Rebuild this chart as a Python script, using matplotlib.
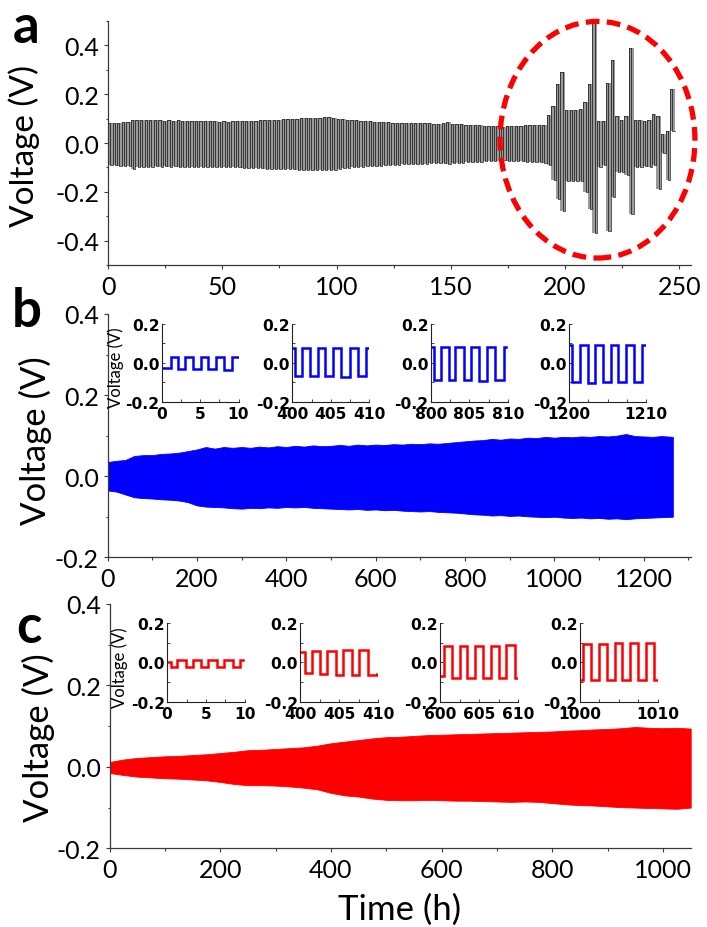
import numpy as np
import matplotlib
matplotlib.use("Agg")
import matplotlib.pyplot as plt
from matplotlib.patches import Ellipse
from matplotlib.ticker import MultipleLocator

plt.rcParams['font.family'] = ['Lato', 'DejaVu Sans']
plt.rcParams['axes.unicode_minus'] = False

# ---------------- DATA ----------------
# panel a: per-cycle (2 h period) upper / lower voltage plateaus
a_period = 2.0
a_upper = [0.080, 0.082, 0.083, 0.085, 0.088,
           0.095, 0.094, 0.096, 0.095, 0.094,
           0.093, 0.094, 0.092, 0.093, 0.092, 0.093, 0.091, 0.092, 0.091, 0.090,
           0.090, 0.089, 0.090, 0.089, 0.088, 0.089, 0.088, 0.089, 0.090, 0.089,
           0.090, 0.091, 0.092, 0.093, 0.094, 0.095, 0.094, 0.096, 0.097, 0.098,
           0.099, 0.100, 0.101, 0.103, 0.104, 0.102, 0.104, 0.106, 0.105, 0.104,
           0.100, 0.098, 0.096, 0.095, 0.094, 0.092, 0.090, 0.089, 0.088, 0.087,
           0.086, 0.085, 0.084, 0.083, 0.083, 0.082, 0.082, 0.081, 0.081, 0.080,
           0.080, 0.079, 0.079, 0.080, 0.085, 0.078, 0.077, 0.076, 0.075, 0.074,
           0.073, 0.072, 0.071, 0.070, 0.069, 0.068, 0.067, 0.068, 0.069, 0.070,
           0.071, 0.072, 0.073, 0.072, 0.074,
           0.075, 0.116, 0.150, 0.240, 0.290, 0.137, 0.135, 0.137, 0.140, 0.170,
           0.240, 0.500, 0.090, 0.090, 0.245, 0.340, 0.110, 0.095, 0.110, 0.390,
           0.095, 0.095, 0.090, 0.095, 0.120, 0.110, 0.035, 0.050, 0.220]
a_lower = [-0.090, -0.092, -0.093, -0.095, -0.096,
           -0.108, -0.100, -0.098, -0.097, -0.097,
           -0.096, -0.097, -0.096, -0.097, -0.096, -0.097, -0.097, -0.098, -0.097, -0.098,
           -0.098, -0.097, -0.098, -0.099, -0.098, -0.099, -0.100, -0.099, -0.100, -0.101,
           -0.101, -0.102, -0.103, -0.104, -0.105, -0.106, -0.106, -0.107, -0.107, -0.108,
           -0.108, -0.109, -0.109, -0.110, -0.111, -0.110, -0.112, -0.111, -0.110, -0.109,
           -0.106, -0.104, -0.102, -0.100, -0.099, -0.098, -0.096, -0.095, -0.094, -0.093,
           -0.092, -0.091, -0.090, -0.089, -0.088, -0.088, -0.087, -0.086, -0.086, -0.085,
           -0.084, -0.084, -0.083, -0.082, -0.086, -0.082, -0.081, -0.080, -0.079, -0.078,
           -0.077, -0.076, -0.075, -0.074, -0.073, -0.072, -0.071, -0.072, -0.073, -0.074,
           -0.075, -0.076, -0.077, -0.078, -0.079,
           -0.080, -0.090, -0.150, -0.230, -0.280, -0.157, -0.155, -0.157, -0.155, -0.200,
           -0.270, -0.370, -0.100, -0.090, -0.360, -0.220, -0.120, -0.120, -0.130, -0.290,
           -0.100, -0.100, -0.095, -0.100, -0.090, -0.190, -0.040, -0.150, 0.050]

# panel b: envelope of the cycling band
b_time = [0, 20, 40, 60, 80, 100, 120, 140, 160, 180, 200, 220, 240, 260, 280, 300,
          320, 340, 360, 380, 400, 420, 440, 460, 480, 500, 520, 540, 560, 580, 600,
          620, 640, 660, 680, 700, 720, 740, 760, 780, 800, 820, 840, 860, 880, 900,
          920, 940, 960, 980, 1000, 1020, 1040, 1060, 1080, 1100, 1120, 1140, 1160,
          1180, 1200, 1220, 1240, 1265]
b_upper = [0.035, 0.038, 0.040, 0.050, 0.052, 0.052, 0.055, 0.056, 0.058, 0.062,
           0.066, 0.072, 0.068, 0.072, 0.070, 0.072, 0.070, 0.073, 0.071, 0.074,
           0.072, 0.075, 0.073, 0.076, 0.074, 0.075, 0.077, 0.075, 0.078, 0.076,
           0.078, 0.077, 0.079, 0.078, 0.080, 0.079, 0.081, 0.080, 0.082, 0.084,
           0.086, 0.088, 0.089, 0.092, 0.090, 0.093, 0.092, 0.095, 0.094, 0.097,
           0.095, 0.097, 0.096, 0.098, 0.097, 0.099, 0.098, 0.100, 0.104, 0.099,
           0.098, 0.097, 0.099, 0.097]
b_lower = [-0.035, -0.038, -0.045, -0.052, -0.054, -0.055, -0.057, -0.058, -0.060, -0.064,
           -0.072, -0.075, -0.076, -0.077, -0.079, -0.080, -0.078, -0.079, -0.077, -0.078,
           -0.076, -0.077, -0.076, -0.078, -0.079, -0.080, -0.081, -0.082, -0.081, -0.083,
           -0.082, -0.084, -0.083, -0.085, -0.086, -0.087, -0.086, -0.088, -0.089, -0.090,
           -0.092, -0.094, -0.095, -0.097, -0.096, -0.098, -0.097, -0.099, -0.100, -0.101,
           -0.100, -0.102, -0.103, -0.102, -0.104, -0.103, -0.105, -0.104, -0.106, -0.104,
           -0.103, -0.102, -0.101, -0.100]

# panel c: envelope of the cycling band
c_time = [0, 25, 50, 75, 100, 125, 150, 175, 200, 225, 250, 275, 300, 325, 350, 375,
          400, 425, 450, 475, 500, 525, 550, 575, 600, 625, 650, 675, 700, 725, 750,
          775, 800, 825, 850, 875, 900, 925, 950, 975, 1000, 1025, 1050]
c_upper = [0.012, 0.018, 0.022, 0.024, 0.026, 0.027, 0.029, 0.031, 0.034, 0.037,
           0.041, 0.042, 0.044, 0.046, 0.048, 0.052, 0.058, 0.062, 0.066, 0.070,
           0.073, 0.074, 0.076, 0.078, 0.079, 0.080, 0.081, 0.082, 0.083, 0.084,
           0.085, 0.086, 0.087, 0.089, 0.090, 0.092, 0.093, 0.095, 0.098, 0.096,
           0.095, 0.096, 0.094]
c_lower = [-0.015, -0.020, -0.024, -0.026, -0.028, -0.029, -0.031, -0.033, -0.037, -0.042,
           -0.045, -0.045, -0.046, -0.048, -0.051, -0.055, -0.064, -0.070, -0.073, -0.078,
           -0.081, -0.082, -0.082, -0.081, -0.082, -0.083, -0.083, -0.084, -0.085, -0.086,
           -0.085, -0.086, -0.089, -0.092, -0.094, -0.095, -0.097, -0.099, -0.100, -0.101,
           -0.102, -0.103, -0.100]

# insets: start, end, switching times, plateau voltages
b_inset_start = [0.2, 400, 800, 1200]
b_inset_end = [9.9, 409.85, 809.8, 1209.8]
b_inset_edges = [
    [1.2, 2.2, 3.1, 4.1, 5.1, 6.1, 7.1, 8.1, 9.1],
    [400.4, 401.3, 402.3, 403.3, 404.3, 405.35, 406.35, 407.45, 408.5, 409.6],
    [800.4, 801.3, 802.4, 803.2, 804.3, 805.2, 806.3, 807.3, 808.4, 809.5],
    [1200.4, 1201.4, 1202.4, 1203.4, 1204.4, 1205.4, 1206.4, 1207.4, 1208.4, 1209.4]]
b_inset_levels = [
    [-0.028, 0.028, -0.030, 0.029, -0.032, 0.030, -0.033, 0.031, -0.035, 0.030],
    [0.075, -0.068, 0.074, -0.070, 0.076, -0.070, 0.077, -0.071, 0.076, -0.070, 0.075],
    [0.080, -0.088, 0.080, -0.090, 0.082, -0.090, 0.080, -0.092, 0.082, -0.090, 0.080],
    [0.093, -0.100, 0.093, -0.102, 0.093, -0.100, 0.092, -0.100, 0.092, -0.100, 0.092]]
b_inset_xticks = [[0, 5, 10], [400, 405, 410], [800, 805, 810], [1200, 1210]]

c_inset_start = [0, 400, 600, 1000]
c_inset_end = [9.8, 409.95, 609.9, 1009.9]
c_inset_edges = [
    [0.5, 1.3, 2.4, 3.3, 4.4, 5.3, 6.4, 7.3, 8.4, 9.3],
    [400.6, 401.5, 402.6, 403.5, 404.6, 405.5, 406.7, 407.6, 408.7, 409.9],
    [600.5, 601.5, 602.5, 603.5, 604.5, 605.5, 606.5, 607.5, 608.5, 609.6],
    [1000.5, 1001.5, 1002.5, 1003.5, 1004.5, 1005.5, 1006.5, 1007.5, 1008.5, 1009.6]]
c_inset_levels = [
    [0.0, -0.022, 0.012, -0.022, 0.012, -0.022, 0.013, -0.022, 0.013, -0.022, 0.013],
    [0.055, -0.055, 0.058, -0.060, 0.060, -0.062, 0.062, -0.062, 0.063, -0.063, -0.060],
    [-0.070, 0.082, -0.080, 0.082, -0.082, 0.085, -0.082, 0.085, -0.082, 0.087, -0.080],
    [-0.090, 0.095, -0.090, 0.095, -0.092, 0.097, -0.092, 0.097, -0.092, 0.098, -0.090]]
c_inset_xticks = [[0, 5, 10], [400, 405, 410], [600, 605, 610], [1000, 1010]]

# ---------------- FIGURE ----------------
W, H = 707, 928
fig = plt.figure(figsize=(W / 100, H / 100), dpi=100)


def px_axes(l, t, r, b):
    return fig.add_axes([l / W, 1 - b / H, (r - l) / W, (b - t) / H])


SPINE = '#3a3a3a'


def style_main(ax):
    for s in ['top', 'right']:
        ax.spines[s].set_visible(False)
    for s in ['left', 'bottom']:
        ax.spines[s].set_color(SPINE)
        ax.spines[s].set_linewidth(0.9)
    ax.tick_params(which='major', direction='out', length=3.2, width=0.8,
                   color=SPINE, labelsize=18, pad=3)
    ax.tick_params(which='minor', direction='out', length=1.8, width=0.8, color=SPINE)
    ax.tick_params(axis='x', pad=4)


def square(start, end, edges, levels):
    xs = [start]
    ys = [levels[0]]
    for i, e in enumerate(edges):
        xs += [e, e]
        ys += [levels[i], levels[i + 1]]
    xs.append(end)
    ys.append(levels[len(edges)])
    return xs, ys


def inset(l, t, w, h, start, end, edges, levels, xticks, color):
    ax = px_axes(l, t, l + w, t + h)
    xs, ys = square(start, end, edges, levels)
    ax.plot(xs, ys, color=color, lw=1.8, solid_joinstyle='miter')
    ax.set_xlim(xticks[0], xticks[-1])
    ax.set_ylim(-0.2, 0.2)
    ax.patch.set_alpha(0)
    for s in ['top', 'right']:
        ax.spines[s].set_visible(False)
    for s in ['left', 'bottom']:
        ax.spines[s].set_color('#222222')
        ax.spines[s].set_linewidth(0.8)
    ax.set_yticks([-0.2, 0.0, 0.2])
    ax.set_yticklabels(['-0.2', '0.0', '0.2'])
    ax.set_xticks(xticks)
    ax.set_xticklabels([str(x) for x in xticks])
    ax.xaxis.set_minor_locator(MultipleLocator(2.5))
    ax.yaxis.set_minor_locator(MultipleLocator(0.1))
    ax.tick_params(which='both', direction='in', length=2, width=0.6, color='#222222')
    ax.tick_params(which='major', labelsize=11.2, pad=1.5)
    ax.tick_params(axis='x', pad=3)
    for lab in ax.get_xticklabels() + ax.get_yticklabels():
        lab.set_fontweight('bold')
        lab.set_fontfamily(['DejaVu Sans'])
    return ax


# ---- panel a ----
axa = px_axes(108, 22, 690.7, 266)
xs, ys = [], []
cyc_t = []
for k, (u, lo) in enumerate(zip(a_upper, a_lower)):
    t0 = k * a_period
    cyc_t.append(t0)
    xs += [t0, t0 + a_period / 2, t0 + a_period / 2, t0 + a_period]
    ys += [u, u, lo, lo]
cyc_t.append(len(a_upper) * a_period)
axa.fill_between(cyc_t, a_lower + [a_lower[-1]], a_upper + [a_upper[-1]],
                 step='post', color='#9a9a9a', lw=0)
axa.plot([0] + xs, [0.0] + ys, color='black', lw=0.45)
axa.set_xlim(0, 255)
axa.set_ylim(-0.5, 0.5)
axa.set_xticks([0, 50, 100, 150, 200, 250])
axa.set_yticks([-0.4, -0.2, 0.0, 0.2, 0.4])
axa.set_yticklabels(['-0.4', '-0.2', '0.0', '0.2', '0.4'])
axa.xaxis.set_minor_locator(MultipleLocator(25))
axa.yaxis.set_minor_locator(MultipleLocator(0.1))
style_main(axa)
axa.add_patch(Ellipse((214.2, 0.0135), 85.3, 0.97, fill=False, edgecolor='#ff0000',
                      lw=3.8, linestyle=(0, (2.6, 1.4)), clip_on=False, zorder=5))

# ---- panel b ----
axb = px_axes(107.5, 315, 690.7, 558.3)
axb.fill_between(b_time, b_lower, b_upper, color='#0000ff', lw=0.6, edgecolor='#0000ff')
axb.set_xlim(0, 1305)
axb.set_ylim(-0.2, 0.4)
axb.set_xticks([0, 200, 400, 600, 800, 1000, 1200])
axb.set_yticks([-0.2, 0.0, 0.2, 0.4])
axb.set_yticklabels(['-0.2', '0.0', '0.2', '0.4'])
axb.xaxis.set_minor_locator(MultipleLocator(100))
axb.yaxis.set_minor_locator(MultipleLocator(0.1))
style_main(axb)

# ---- panel c ----
axc = px_axes(109.5, 605, 690.7, 849.3)
axc.fill_between(c_time, c_lower, c_upper, color='#ff0000', lw=0.6, edgecolor='#ff0000')
axc.set_xlim(0, 1050)
axc.set_ylim(-0.2, 0.4)
axc.set_xticks([0, 200, 400, 600, 800, 1000])
axc.set_yticks([-0.2, 0.0, 0.2, 0.4])
axc.set_yticklabels(['-0.2', '0.0', '0.2', '0.4'])
axc.xaxis.set_minor_locator(MultipleLocator(100))
axc.yaxis.set_minor_locator(MultipleLocator(0.1))
style_main(axc)

for ax in (axa, axb, axc):
    for lab in ax.get_xticklabels() + ax.get_yticklabels():
        lab.set_fontfamily(['Lato'])

# ---- insets ----
b_left = [161.5, 292.3, 430.8, 569.2]
for i in range(4):
    inset(b_left[i], 325, 77, 77.7, b_inset_start[i], b_inset_end[i],
          b_inset_edges[i], b_inset_levels[i], b_inset_xticks[i], '#0000ff')
c_left = [167, 300, 440, 579.5]
for i in range(4):
    inset(c_left[i], 624, 78, 78.7, c_inset_start[i], c_inset_end[i],
          c_inset_edges[i], c_inset_levels[i], c_inset_xticks[i], '#ff0000')

# ---- labels ----
def ftext(x, y, s, **kw):
    fig.text(x / W, 1 - y / H, s, **kw)


ftext(24, 146, 'Voltage (V)', rotation=90, ha='center', va='center', fontsize=24)
ftext(35, 441, 'Voltage (V)', rotation=90, ha='center', va='center', fontsize=25)
ftext(38, 738, 'Voltage (V)', rotation=90, ha='center', va='center', fontsize=25)
ftext(116, 368, 'Voltage (V)', rotation=90, ha='center', va='center', fontsize=12)
ftext(120, 668, 'Voltage (V)', rotation=90, ha='center', va='center', fontsize=12)
ftext(400, 920, 'Time (h)', ha='center', va='baseline', fontsize=25)

ftext(26, 43, 'a', ha='center', va='baseline', fontsize=38, fontweight='bold')
ftext(27, 327, 'b', ha='center', va='baseline', fontsize=38, fontweight='bold')
ftext(29, 643, 'c', ha='center', va='baseline', fontsize=38, fontweight='bold')

fig.savefig('out.png', dpi=100)
